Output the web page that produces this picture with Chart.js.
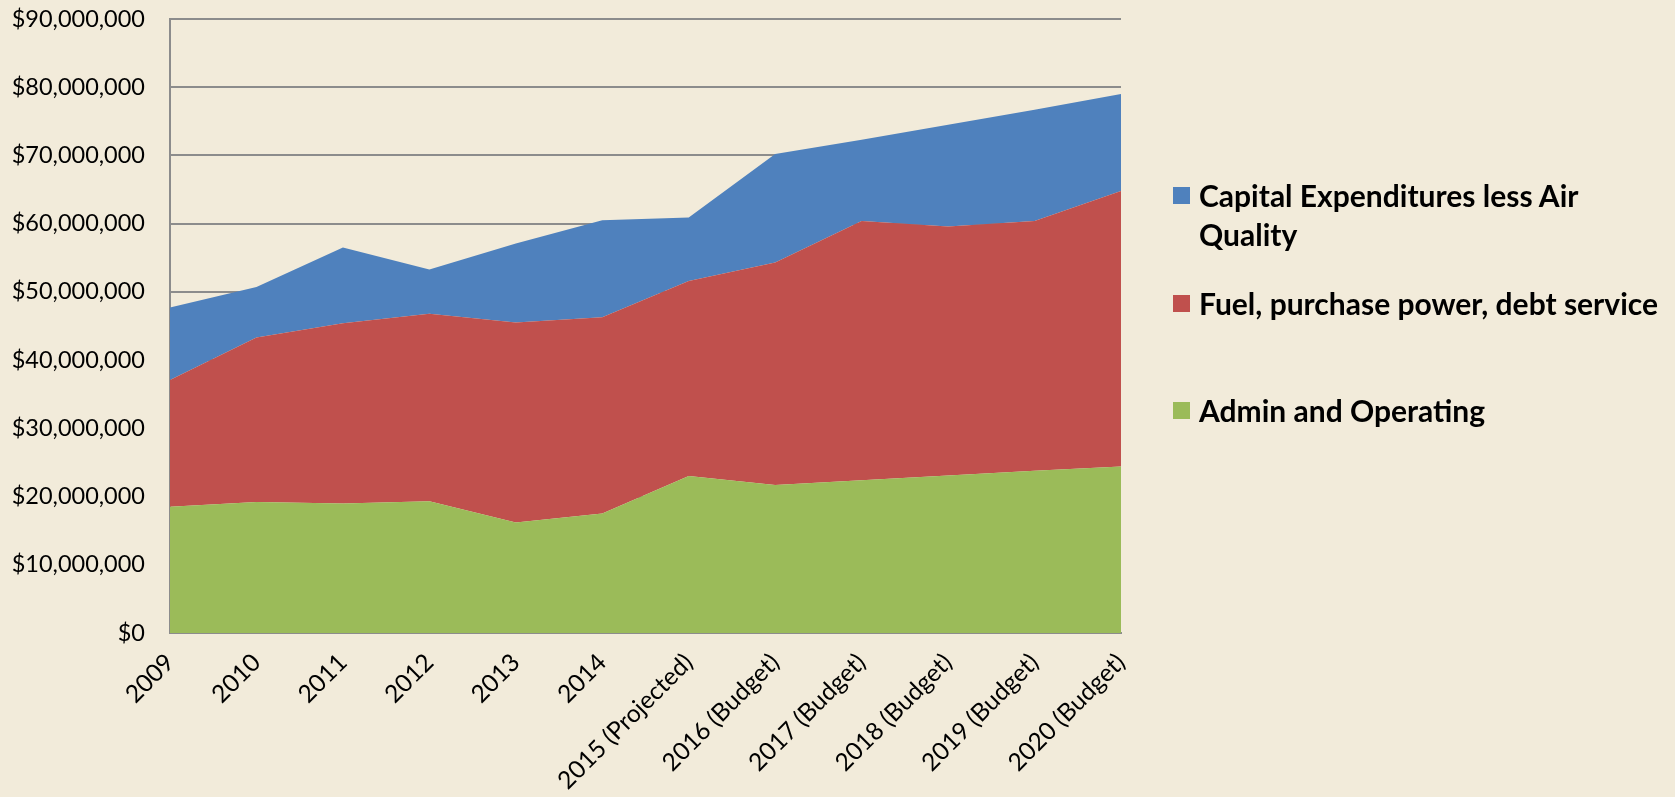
<!DOCTYPE html>
<html>
<head>
<meta charset="utf-8">
<script src="https://cdn.jsdelivr.net/npm/chart.js@4"></script>
<style>
  html, body { margin: 0; padding: 0; background: #f2ebda; }
  #wrap { position: relative; width: 1675px; height: 797px; background: #f2ebda; }
  #chart { position: absolute; left: 0; top: 0; }
  .legend-item { position: absolute; left: 1173px; font-family: Lato, sans-serif; font-weight: bold; font-size: 30px; line-height: 39px; color: #000; }
  .legend-box { position: absolute; left: 0; top: 11px; width: 17px; height: 17px; }
  .legend-text { position: absolute; left: 26px; top: 0; width: 472px; }
</style>
</head>
<body>
<div id="wrap">
  <canvas id="chart" width="1675" height="797"></canvas>
  <div id="legend"></div>
</div>
<script>
(function () {
  'use strict';

  var years = ['2009', '2010', '2011', '2012', '2013', '2014', '2015 (Projected)',
    '2016 (Budget)', '2017 (Budget)', '2018 (Budget)', '2019 (Budget)', '2020 (Budget)'];

  // values in dollars (millions)
  var adminOperating = [18.5, 19.2, 19.0, 19.3, 16.2, 17.5, 23.0, 21.7, 22.4, 23.1, 23.8, 24.4];
  var fuelPowerDebt = [18.6, 24.1, 26.4, 27.5, 29.3, 28.8, 28.6, 32.6, 38.0, 36.5, 36.6, 40.4];
  var capitalLessAir = [10.6, 7.4, 11.1, 6.5, 11.6, 14.2, 9.3, 15.9, 11.9, 14.9, 16.3, 14.2];

  var seriesNames = ['Capital Expenditures less Air Quality', 'Fuel, purchase power, debt service', 'Admin and Operating'];
  var seriesColors = ['#4f81bd', '#c0504d', '#9bbb59'];
  var legendTops = [176, 284, 391];

  var yMax = 90000000;
  var yStep = 10000000;

  function toDollars(arr) {
    return arr.map(function (v) { return Math.round(v * 1000000); });
  }

  function fmtMoney(v) {
    return '$' + Math.round(v).toLocaleString('en-US');
  }

  new Chart(document.getElementById('chart'), {
    type: 'line',
    data: {
      labels: years,
      datasets: [
        { label: seriesNames[2], data: toDollars(adminOperating), backgroundColor: seriesColors[2], fill: 'origin' },
        { label: seriesNames[1], data: toDollars(fuelPowerDebt), backgroundColor: seriesColors[1], fill: '-1' },
        { label: seriesNames[0], data: toDollars(capitalLessAir), backgroundColor: seriesColors[0], fill: '-1' }
      ]
    },
    options: {
      responsive: false,
      animation: false,
      elements: {
        line: { borderWidth: 0, tension: 0 },
        point: { radius: 0, hoverRadius: 0 }
      },
      layout: { padding: { left: 0, top: 19, right: 554, bottom: 0 } },
      plugins: {
        legend: { display: false },
        tooltip: { enabled: false }
      },
      scales: {
        x: {
          stacked: true,
          offset: false,
          grid: { display: false, drawTicks: false },
          border: { display: true, color: '#8c8c8c', width: 2 },
          ticks: {
            color: '#000',
            font: { family: 'Lato, sans-serif', size: 24.5 },
            minRotation: 45,
            maxRotation: 45,
            autoSkip: false,
            padding: 15
          },
          afterFit: function (scale) { scale.height = 164; }
        },
        y: {
          stacked: true,
          min: 0,
          max: yMax,
          grid: { color: '#8c8c8c', lineWidth: 2, drawTicks: false },
          border: { display: true, color: '#8c8c8c', width: 2 },
          ticks: {
            stepSize: yStep,
            color: '#000',
            font: { family: 'Lato, sans-serif', size: 23.5 },
            padding: 25,
            callback: function (v) { return fmtMoney(v); }
          },
          afterFit: function (scale) {
            scale.width = 170;
            // tick padding should not push the plot top down
            scale.paddingTop = 0;
            scale.paddingBottom = 0;
          }
        }
      }
    }
  });

  // --- Legend ---
  var legendEl = document.getElementById('legend');
  var html = '';
  for (var i = 0; i < seriesNames.length; i++) {
    html += '<div class="legend-item" style="top:' + legendTops[i] + 'px">'
      + '<span class="legend-box" style="background:' + seriesColors[i] + '"></span>'
      + '<span class="legend-text">' + seriesNames[i] + '</span>'
      + '</div>';
  }
  legendEl.innerHTML = html;
})();
</script>
</body>
</html>
